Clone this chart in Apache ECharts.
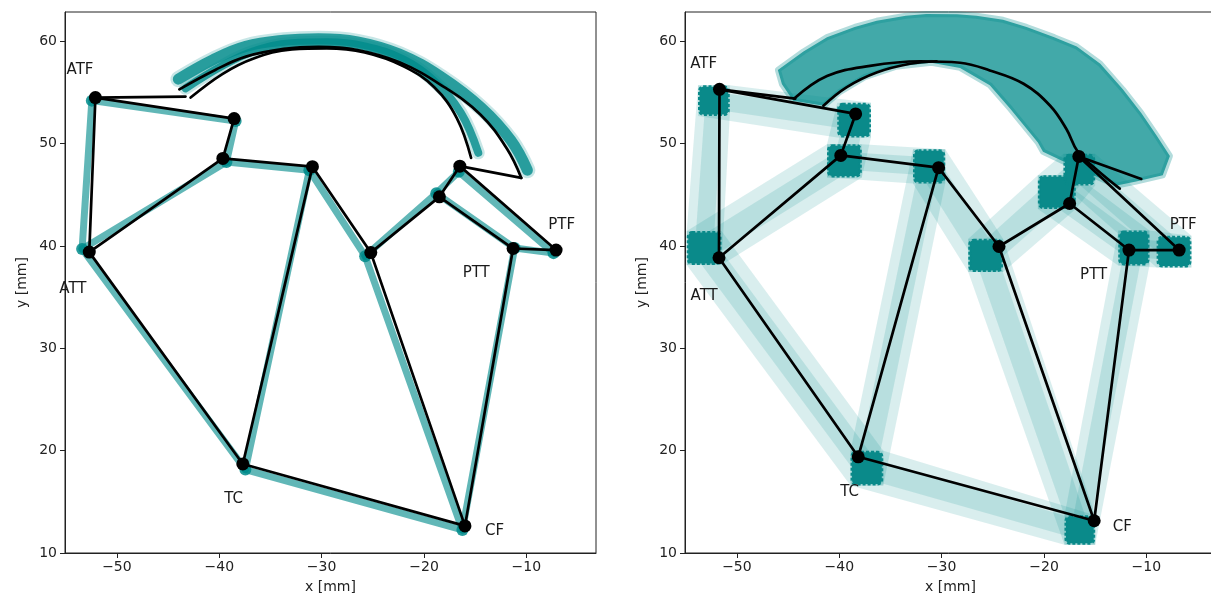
<!DOCTYPE html>
<html><head><meta charset="utf-8">
<script src="https://cdn.jsdelivr.net/npm/echarts@6/dist/echarts.min.js"></script>
<style>html,body{margin:0;padding:0;background:#fff;overflow:hidden}#c{width:1211px;height:601px}</style>
</head><body><div id="c"></div>
<script>
// ---------------- data ----------------
// node order: ATF, N2, N3, N4, ATT, TC, N5, CF, N6, N7, PTT, PTF, AS (arc start), AE (arc end)
const nodeNames = ['ATF','N2','N3','N4','ATT','TC','N5','CF','N6','N7','PTT','PTF','AS','AE'];
const leftX  = [-52.1, -38.55, -39.65, -30.9, -52.7, -37.7, -25.2, -16.0, -18.5, -16.5, -11.3, -7.1, -43.3, -10.5];
const leftY  = [ 54.5,  52.45,  48.55,  47.75, 39.4,  18.7,  39.35,  12.65, 44.8,  47.8,  39.75, 39.6, 54.6,  46.65];
const leftTealX = [-52.45, -38.4, -39.3, -31.2, -53.4, -37.45, -25.75, -16.25, -18.8, -16.6, -11.15, -7.35];
const leftTealY = [ 54.2,   52.2,  48.2,  47.4,  39.7,  18.15,  39.0,   12.25,  45.15, 47.25, 39.8,  39.3];
const rightX = [-51.7, -38.4, -39.85, -30.3, -51.75, -38.15, -24.4, -15.1, -17.5, -16.6, -11.7, -6.8, -44.3, -10.5];
const rightY = [ 55.3,  52.9,  48.85,  47.65, 38.85,  19.4,   39.95, 13.15, 44.15, 48.75, 39.6,  39.6, 54.4,  46.55];
// sample clusters (right panel): extents of the point clouds
const clusterXMin = [-53.8, -40.2, -41.2, -32.8, -54.9, -38.9, -27.4, -18.0, -20.6, -18.1, -12.75, -9.0];
const clusterXMax = [-50.7, -36.9, -37.8, -29.65, -51.5, -35.7, -24.0, -15.0, -16.9, -15.0, -9.7, -5.6];
const clusterYMin = [ 52.7,  50.6,  46.7,  46.1,  38.15,  16.6,  37.45, 10.8,  43.6,  45.9,  38.1,  37.9];
const clusterYMax = [ 55.7,  54.0,  49.95, 49.45, 41.45,  20.0,  40.7,  13.7,  46.9,  49.0,  41.5,  41.0];
// connections (indices into node arrays)
const edges = [[0,1],[0,12],[0,4],[1,2],[2,4],[2,3],[3,5],[3,6],[4,5],[5,7],[6,7],[6,8],[8,9],[8,10],[9,11],[9,13],[10,11],[10,7]];
const tealEdges = [[0,1],[0,4],[1,2],[2,4],[2,3],[3,5],[3,6],[4,5],[5,7],[6,7],[6,8],[8,9],[8,10],[9,11],[10,11],[10,7]];
// wrapping arcs
const arcL1 = [[-43.9,55.3],[-40.4,57.2],[-37.4,58.5],[-33.7,59.25],[-30.3,59.45],[-26.5,59.15],[-22.4,57.95],[-18.3,55.7],[-14.5,52.85],[-11.9,49.5],[-10.5,46.65]];
const arcL2 = [[-42.8,54.5],[-39.7,56.8],[-36.7,58.3],[-32.9,59.2],[-29.5,59.3],[-25.8,58.9],[-22.0,57.55],[-19.0,55.5],[-16.8,52.5],[-15.4,48.6]];
const tealArcL1 = [[-44.0,56.3],[-40.6,58.2],[-37.4,59.5],[-33.7,60.1],[-30.3,60.25],[-26.5,59.95],[-22.4,58.75],[-18.3,56.5],[-14.4,53.5],[-11.5,50.3],[-9.9,47.4]];
const tealArcL2 = [[-43.3,55.4],[-39.7,57.6],[-36.7,59.0],[-32.9,59.8],[-29.5,59.9],[-25.8,59.5],[-22.0,58.2],[-19.0,56.1],[-16.4,53.0],[-14.7,49.1]];
const arcR1 = [[-44.4,54.4],[-41.2,56.6],[-37.0,57.6],[-32.1,58.05],[-28.2,57.9],[-25.3,57.15],[-22.0,55.85],[-19.4,53.7],[-17.8,51.4],[-16.7,49.2],[-14.9,47.5],[-12.6,45.6]];
const arcR2 = [[-41.55,53.7],[-39.3,55.5],[-36.35,56.95],[-33.1,57.8],[-30.5,58.05]];
const fanOuter = [[-46.0,57.2],[-43.5,59.0],[-41.2,60.4],[-38.5,61.4],[-36.35,62.0],[-33.5,62.5],[-31.5,62.67],[-28.5,62.65],[-26.6,62.5],[-24.0,62.1],[-21.7,61.4],[-19.0,60.4],[-16.8,59.5],[-14.5,57.8],[-12.3,55.3],[-10.5,53.0],[-9.0,50.8],[-7.7,48.8]];
const fanInner = [[-8.4,46.9],[-11.0,46.3],[-12.9,45.9],[-16.5,47.5],[-20.1,49.2],[-20.6,50.1],[-23.3,53.4],[-25.3,55.7],[-28.2,57.4],[-31.0,57.9],[-34.5,57.5],[-37.5,56.5],[-40.0,55.0],[-41.5,53.7],[-44.5,54.2],[-45.6,55.8]];
// text labels
const labelNames = ['ATF','ATT','TC','CF','PTT','PTF'];
const leftLabelX  = [-53.6, -54.3, -38.6, -13.1, -14.9, -6.55];
const leftLabelY  = [ 57.2,  35.8,  15.3,  12.1,  37.3,  42.05];
const rightLabelX = [-53.25, -53.2, -39.0, -12.35, -15.15, -6.4];
const rightLabelY = [ 57.8,   35.1,  15.95, 12.55,  37.15,  42.05];
const xTicks = [-50, -40, -30, -20, -10];
const yTicks = [10, 20, 30, 40, 50, 60];

// ---------------- chart ----------------
const TEAL = '#008b8b';
const FONT = 'DejaVu Sans';
const LW = 2.7;
const fmt = v => String(v).replace('-', '\u2212');
const chart = echarts.init(document.getElementById('c'), null, {renderer: 'canvas'});

function axesFor(i) {
  const x = {
    type: 'value', gridIndex: i, min: -55.07, max: -3.2,
    name: 'x [mm]', nameLocation: 'middle', nameGap: 27,
    nameTextStyle: {fontFamily: FONT, fontSize: 14, color: '#222'},
    axisLine: {show: true, lineStyle: {color: '#222', width: 1}},
    axisTick: {show: true, length: 5, customValues: xTicks, lineStyle: {color: '#222'}},
    axisLabel: {customValues: xTicks, formatter: fmt, margin: 7, fontFamily: FONT, fontSize: 14, color: '#222'},
    splitLine: {show: false}
  };
  const y = {
    type: 'value', gridIndex: i, min: 10, max: 62.86,
    name: 'y [mm]', nameLocation: 'middle', nameGap: 36, nameRotate: 90,
    nameTextStyle: {fontFamily: FONT, fontSize: 14, color: '#222'},
    axisLine: {show: true, lineStyle: {color: '#222', width: 1}},
    axisTick: {show: true, length: 5, customValues: yTicks, lineStyle: {color: '#222'}},
    axisLabel: {customValues: yTicks, formatter: fmt, margin: 8, fontFamily: FONT, fontSize: 14, color: '#222'},
    splitLine: {show: false}
  };
  return [x, y];
}
const [x0, y0] = axesFor(0);
const [x1, y1] = axesFor(1);

function edgeSeries(idx, xs, ys, list, color, width, opacity, z) {
  return {
    type: 'custom', xAxisIndex: idx, yAxisIndex: idx, z: z, silent: true,
    data: list.map(e => [xs[e[0]], ys[e[0]], xs[e[1]], ys[e[1]]]),
    encode: {x: [0, 2], y: [1, 3]},
    renderItem: (p, api) => {
      const a = api.coord([api.value(0), api.value(1)]);
      const b = api.coord([api.value(2), api.value(3)]);
      return {type: 'line', shape: {x1: a[0], y1: a[1], x2: b[0], y2: b[1]},
        style: {stroke: color, lineWidth: width, opacity: opacity, lineCap: 'round'}};
    }
  };
}
function arcSeries(idx, pts, color, width, opacity, z) {
  return {type: 'line', xAxisIndex: idx, yAxisIndex: idx, data: pts, smooth: 0.4, showSymbol: false,
    silent: true, z: z, lineStyle: {color: color, width: width, opacity: opacity, cap: 'round'}};
}
function nodeSeries(idx, xs, ys, n, color, size, opacity, z) {
  const d = [];
  for (let i = 0; i < n; i++) d.push([xs[i], ys[i]]);
  return {type: 'scatter', xAxisIndex: idx, yAxisIndex: idx, data: d, symbolSize: size, silent: true, z: z,
    itemStyle: {color: color, opacity: opacity}};
}
function labelSeries(idx, xs, ys) {
  return {
    type: 'custom', xAxisIndex: idx, yAxisIndex: idx, z: 10, silent: true,
    data: labelNames.map((n, i) => [xs[i], ys[i], n]),
    renderItem: (p, api) => {
      const c = api.coord([api.value(0), api.value(1)]);
      return {type: 'text', x: c[0], y: c[1], style: {text: labelNames[p.dataIndex], font: '15px "DejaVu Sans"',
        fill: '#1a1a1a', align: 'center', verticalAlign: 'middle'}};
    }
  };
}
function hull(pts) {
  pts = pts.slice().sort((a, b) => a[0] - b[0] || a[1] - b[1]);
  const cross = (o, a, b) => (a[0]-o[0])*(b[1]-o[1]) - (a[1]-o[1])*(b[0]-o[0]);
  const lo = [], up = [];
  for (const p of pts) { while (lo.length >= 2 && cross(lo[lo.length-2], lo[lo.length-1], p) <= 0) lo.pop(); lo.push(p); }
  for (let i = pts.length - 1; i >= 0; i--) { const p = pts[i]; while (up.length >= 2 && cross(up[up.length-2], up[up.length-1], p) <= 0) up.pop(); up.push(p); }
  up.pop(); lo.pop();
  return lo.concat(up);
}
function rectCorners(api, i, shrink) {
  const cx = (clusterXMin[i] + clusterXMax[i]) / 2, cy = (clusterYMin[i] + clusterYMax[i]) / 2;
  const hx = (clusterXMax[i] - clusterXMin[i]) / 2 * shrink, hy = (clusterYMax[i] - clusterYMin[i]) / 2 * shrink;
  return [[cx-hx, cy-hy], [cx+hx, cy-hy], [cx+hx, cy+hy], [cx-hx, cy+hy]].map(p => api.coord(p));
}
function bandSeries(shrink, opacity) {
  return {
    type: 'custom', xAxisIndex: 1, yAxisIndex: 1, z: 1, silent: true,
    data: tealEdges.map(e => [rightX[e[0]], rightY[e[0]], rightX[e[1]], rightY[e[1]]]),
    renderItem: (p, api) => {
      const e = tealEdges[p.dataIndex];
      const pts = hull(rectCorners(api, e[0], shrink).concat(rectCorners(api, e[1], shrink)));
      return {type: 'polygon', shape: {points: pts}, style: {fill: TEAL, opacity: opacity}};
    }
  };
}
const clusterSeries = {
  type: 'custom', xAxisIndex: 1, yAxisIndex: 1, z: 2, silent: true,
  data: clusterXMin.map((v, i) => [clusterXMin[i], clusterYMin[i], clusterXMax[i], clusterYMax[i]]),
  encode: {x: [0, 2], y: [1, 3]},
  renderItem: (p, api) => {
    const a = api.coord([api.value(0), api.value(3)]);
    const b = api.coord([api.value(2), api.value(1)]);
    return {type: 'rect', shape: {x: a[0] + 1.5, y: a[1] + 1.5, width: b[0] - a[0] - 3, height: b[1] - a[1] - 3, r: 4},
      style: {fill: '#0a8a8a', stroke: '#0a8a8a', lineWidth: 3, lineDash: [3, 2]}};
  }
};
const fanSeries = {
  type: 'custom', xAxisIndex: 1, yAxisIndex: 1, z: 1, silent: true,
  data: [[fanOuter[0][0], fanOuter[0][1]]],
  renderItem: (p, api) => {
    const pts = fanOuter.concat(fanInner).map(q => api.coord(q));
    return {type: 'polygon', shape: {points: pts},
      style: {fill: 'rgba(0,139,139,0.74)', stroke: 'rgba(0,139,139,0.3)', lineWidth: 6, lineJoin: 'round'}};
  }
};

const option = {
  animation: false,
  backgroundColor: '#fff',
  grid: [
    {left: 65, top: 12, width: 531, height: 541, show: true, borderColor: '#222', borderWidth: 1, containLabel: false, outerBoundsMode: 'none'},
    {left: 685, top: 12, width: 531, height: 541, show: true, borderColor: '#222', borderWidth: 1, containLabel: false, outerBoundsMode: 'none'}
  ],
  xAxis: [x0, x1],
  yAxis: [y0, y1],
  series: [
    // left panel
    arcSeries(0, tealArcL1, TEAL, 16, 0.22, 1),
    arcSeries(0, tealArcL2, TEAL, 13, 0.22, 1),
    arcSeries(0, tealArcL1, TEAL, 11, 0.8, 1),
    arcSeries(0, tealArcL2, TEAL, 8, 0.8, 1),
    edgeSeries(0, leftTealX, leftTealY, tealEdges, TEAL, 7, 0.62, 1),
    nodeSeries(0, leftTealX, leftTealY, 12, TEAL, 12, 0.85, 2),
    edgeSeries(0, leftX, leftY, edges, '#000', LW, 1, 3),
    arcSeries(0, arcL1, '#000', LW, 1, 3),
    arcSeries(0, arcL2, '#000', LW, 1, 3),
    nodeSeries(0, leftX, leftY, 12, '#000', 13, 1, 4),
    labelSeries(0, leftLabelX, leftLabelY),
    // right panel
    bandSeries(1.0, 0.15),
    bandSeries(0.5, 0.15),
    fanSeries,
    clusterSeries,
    edgeSeries(1, rightX, rightY, edges, '#000', LW, 1, 3),
    arcSeries(1, arcR1, '#000', LW, 1, 3),
    arcSeries(1, arcR2, '#000', LW, 1, 3),
    nodeSeries(1, rightX, rightY, 12, '#000', 13, 1, 4),
    labelSeries(1, rightLabelX, rightLabelY)
  ]
};
chart.setOption(option);
</script>
</body></html>
